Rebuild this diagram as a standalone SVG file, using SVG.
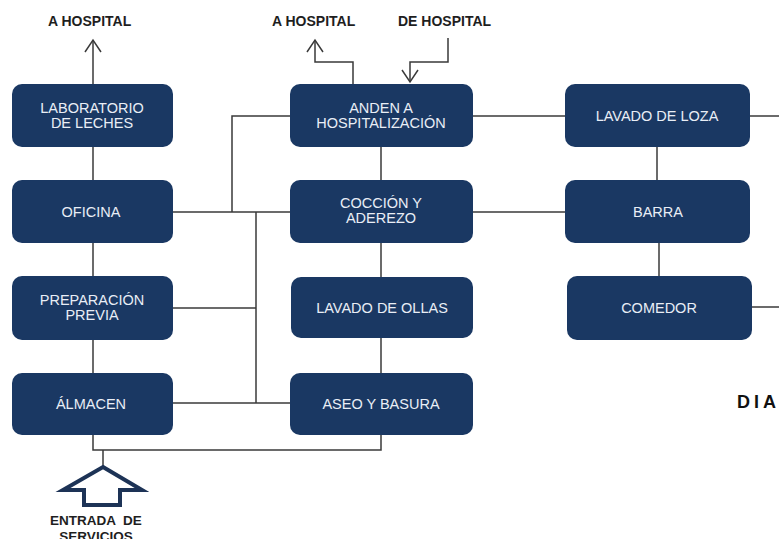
<svg xmlns="http://www.w3.org/2000/svg" width="779" height="539" viewBox="0 0 779 539">
  <defs>
    <style>
      .box { fill: #1a3863; }
      .lbl { font-family: "Liberation Sans", Arial, sans-serif; font-size: 14.5px; fill: #e9eef6; text-anchor: middle; }
      .hdr { font-family: "Liberation Sans", Arial, sans-serif; font-size: 14px; font-weight: bold; fill: #1e1e1e; }
      .wire { fill: none; stroke: #3a3a3a; stroke-width: 1.5; }
      .chev { fill: none; stroke: #3a3a3a; stroke-width: 1.5; stroke-linejoin: miter; }
    </style>
  </defs>
  <rect width="779" height="539" fill="#ffffff"/>

  <!-- connectors -->
  <g id="connectors">
    <!-- left column -->
    <path class="wire" d="M93 40 V84"/>
    <path class="wire" d="M93 147 V180"/>
    <path class="wire" d="M93 243 V276"/>
    <path class="wire" d="M93 340 V373"/>
    <!-- oficina to anden and coccion -->
    <path class="wire" d="M173 212 H290"/>
    <path class="wire" d="M232 212 V116 H290"/>
    <!-- preparacion / almacen to the kitchen bus -->
    <path class="wire" d="M256 212 V403"/>
    <path class="wire" d="M173 308 H256"/>
    <path class="wire" d="M173 403 H290"/>
    <!-- bottom service line -->
    <path class="wire" d="M93 435 V450 H381 V435"/>
    <path class="wire" d="M103 450 V467"/>
    <!-- centre column -->
    <path class="wire" d="M381 147 V180"/>
    <path class="wire" d="M381 243 V277"/>
    <path class="wire" d="M381 338 V373"/>
    <!-- to / from hospital -->
    <path class="wire" d="M353 84 V62 H315 V40"/>
    <path class="wire" d="M448 38 V62 H410 V82"/>
    <!-- right column -->
    <path class="wire" d="M473 116 H565"/>
    <path class="wire" d="M473 212 H565"/>
    <path class="wire" d="M750 116 H779"/>
    <path class="wire" d="M657 147 V180"/>
    <path class="wire" d="M659 243 V276"/>
    <path class="wire" d="M752 307 H779"/>
    <!-- open arrowheads -->
    <path class="chev" d="M85 52 L93 40 L101 52"/>
    <path class="chev" d="M307 52 L315 40 L323 52"/>
    <path class="chev" d="M402 70 L410 82 L418 70"/>
    <!-- service entrance block arrow -->
    <polygon points="103,467 142,490 120,490 120,505 84,505 84,490 63,490" fill="none" stroke="#1d3356" stroke-width="4" stroke-linejoin="miter"/>
  </g>

  <!-- headings -->
  <text class="hdr" x="48" y="26">A HOSPITAL</text>
  <text class="hdr" x="272" y="26">A HOSPITAL</text>
  <text class="hdr" x="398" y="26">DE HOSPITAL</text>
  <text x="96" y="525" font-family="Liberation Sans, Arial, sans-serif" font-size="13.5" font-weight="bold" fill="#1e1e1e" text-anchor="middle" xml:space="preserve">ENTRADA  DE</text>
  <text x="96" y="541" font-family="Liberation Sans, Arial, sans-serif" font-size="13.5" font-weight="bold" fill="#1e1e1e" text-anchor="middle">SERVICIOS</text>
  <text x="737" y="408" font-family="Liberation Sans, Arial, sans-serif" font-size="18" font-weight="bold" fill="#111111" letter-spacing="4">DIA</text>

  <!-- left column nodes -->
  <g id="laboratorio">
    <rect class="box" x="12" y="84" width="161" height="63" rx="10"/>
    <text class="lbl" x="92" y="113">LABORATORIO</text>
    <text class="lbl" x="92" y="128">DE LECHES</text>
  </g>
  <g id="oficina">
    <rect class="box" x="12" y="180" width="161" height="63" rx="10"/>
    <text class="lbl" x="91" y="217">OFICINA</text>
  </g>
  <g id="preparacion">
    <rect class="box" x="12" y="276" width="161" height="64" rx="10"/>
    <text class="lbl" x="92" y="305">PREPARACIÓN</text>
    <text class="lbl" x="92" y="320">PREVIA</text>
  </g>
  <g id="almacen">
    <rect class="box" x="12" y="373" width="161" height="62" rx="10"/>
    <text class="lbl" x="91" y="409">ÁLMACEN</text>
  </g>

  <!-- centre column nodes -->
  <g id="anden">
    <rect class="box" x="290" y="84" width="183" height="63" rx="10"/>
    <text class="lbl" x="381" y="113">ANDEN A</text>
    <text class="lbl" x="381" y="128">HOSPITALIZACIÓN</text>
  </g>
  <g id="coccion">
    <rect class="box" x="290" y="180" width="183" height="63" rx="10"/>
    <text class="lbl" x="381" y="208">COCCIÓN Y</text>
    <text class="lbl" x="381" y="223">ADEREZO</text>
  </g>
  <g id="lavado-ollas">
    <rect class="box" x="291" y="277" width="182" height="61" rx="10"/>
    <text class="lbl" x="382" y="313">LAVADO DE OLLAS</text>
  </g>
  <g id="aseo">
    <rect class="box" x="290" y="373" width="183" height="62" rx="10"/>
    <text class="lbl" x="381" y="409">ASEO Y BASURA</text>
  </g>

  <!-- right column nodes -->
  <g id="lavado-loza">
    <rect class="box" x="565" y="84" width="185" height="63" rx="10"/>
    <text class="lbl" x="657" y="121">LAVADO DE LOZA</text>
  </g>
  <g id="barra">
    <rect class="box" x="565" y="180" width="185" height="63" rx="10"/>
    <text class="lbl" x="658" y="217">BARRA</text>
  </g>
  <g id="comedor">
    <rect class="box" x="567" y="276" width="185" height="64" rx="10"/>
    <text class="lbl" x="659" y="313">COMEDOR</text>
  </g>
</svg>
